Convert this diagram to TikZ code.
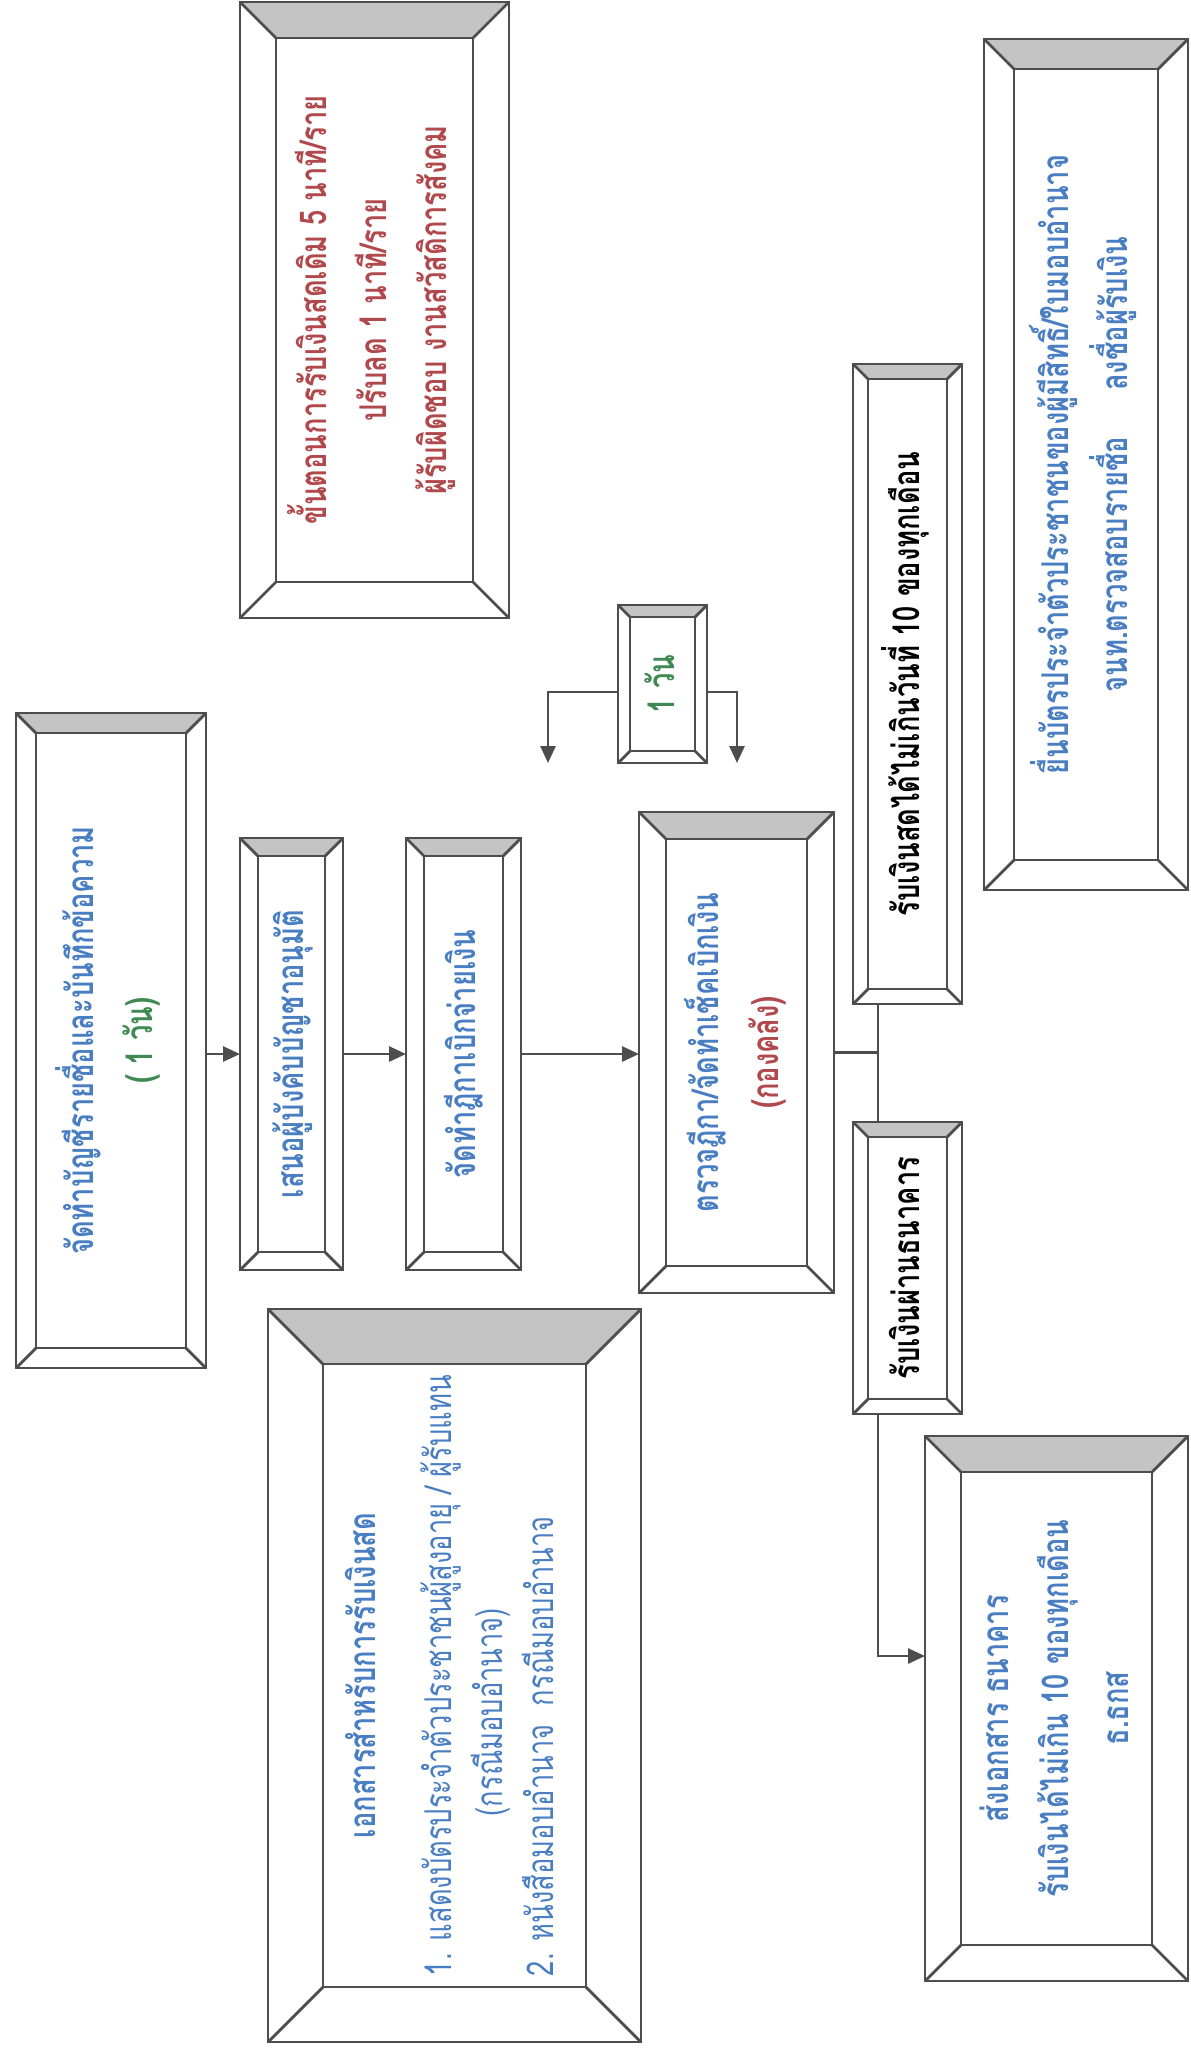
\documentclass[tikz,border=0pt]{standalone}
\usepackage{fontspec}
\setmainfont{Loma}[Script=Thai,FakeStretch=0.74]
\usepackage{graphicx}
\usetikzlibrary{arrows.meta}
\definecolor{edge}{HTML}{4D4D4D}
\definecolor{band}{HTML}{C4C4C4}
\definecolor{tblue}{HTML}{4A7EC2}
\definecolor{tred}{HTML}{B0484C}
\definecolor{tgreen}{HTML}{3F8A52}
\newcommand{\up}[1]{\rotatebox{90}{\begin{tabular}{@{}c@{}}#1\end{tabular}}}
\newcommand{\upl}[1]{\rotatebox{90}{\begin{tabular}{@{}l@{}}#1\end{tabular}}}

\begin{document}
\begin{tikzpicture}[x=0.1mm,y=-0.1mm,
every node/.style={font=\fontsize{10.5}{17}\selectfont\bfseries,text=tblue},
bevel/.style={draw=edge,line width=0.8pt,fill=white,inner sep=0pt,outer sep=0pt,
  path picture={
    \fill[band] (path picture bounding box.north west) -- (path picture bounding box.north east)
      -- ([shift={(-#1,-#1)}]path picture bounding box.north east)
      -- ([shift={(#1,-#1)}]path picture bounding box.north west) -- cycle;
    \draw[edge,line width=0.8pt] ([shift={(#1,#1)}]path picture bounding box.south west)
      rectangle ([shift={(-#1,-#1)}]path picture bounding box.north east);
    \draw[edge,line width=0.8pt] (path picture bounding box.north west) -- ++(#1,-#1);
    \draw[edge,line width=0.8pt] (path picture bounding box.north east) -- ++(-#1,-#1);
    \draw[edge,line width=0.8pt] (path picture bounding box.south west) -- ++(#1,#1);
    \draw[edge,line width=0.8pt] (path picture bounding box.south east) -- ++(-#1,#1);
  }},
arr/.style={-{Triangle[length=1.7mm,width=1.5mm]},edge,line width=0.8pt},
line/.style={edge,line width=0.8pt}]
\useasboundingbox (0,0) rectangle (1190,2053);

% boxes
\node[bevel=3.6mm,minimum width=26.9mm,minimum height=61.6mm,text=tred] (time) at (374.5,310)
  {\up{ขั้นตอนการรับเงินสดเดิม 5 นาที/ราย\\ปรับลด 1 นาที/ราย\\ผู้รับผิดชอบ งานสวัสดิการสังคม}};
\node[bevel=2mm,minimum width=19mm,minimum height=65.5mm] (list) at (111,1040.5)
  {\up{จัดทำบัญชีรายชื่อและบันทึกข้อความ\\\textcolor{tgreen}{( 1 วัน)}}};
\node[bevel=1.8mm,minimum width=10.3mm,minimum height=43.2mm] (propose) at (291.5,1054)
  {\up{เสนอผู้บังคับบัญชาอนุมัติ}};
\node[bevel=1.8mm,minimum width=11.5mm,minimum height=43.2mm] (voucher) at (463.5,1054)
  {\up{จัดทำฎีกาเบิกจ่ายเงิน}};
\node[bevel=2.7mm,minimum width=19.5mm,minimum height=48.1mm] (check) at (736.5,1052.5)
  {\up{ตรวจฎีกา/จัดทำเช็คเบิกเงิน\\\textcolor{tred}{(กองคลัง)}}};
\node[bevel=1.2mm,minimum width=8.9mm,minimum height=15.8mm,text=tgreen] (oneday) at (662.5,684)
  {\up{1 วัน}};
\node[bevel=1.5mm,minimum width=10.9mm,minimum height=64mm,text=black] (cash) at (907.5,684)
  {\up{รับเงินสดได้ไม่เกินวันที่ 10 ของทุกเดือน}};
\node[bevel=1.5mm,minimum width=10.9mm,minimum height=29.2mm,text=black] (bank) at (907.5,1268)
  {\up{รับเงินผ่านธนาคาร}};
\node[bevel=3.6mm,minimum width=26.3mm,minimum height=54.5mm] (bankdoc) at (1056.5,1708.5)
  {\up{ส่งเอกสาร ธนาคาร\\รับเงินได้ไม่เกิน 10 ของทุกเดือน\\ธ.ธกส}};
\node[bevel=3mm,minimum width=20.4mm,minimum height=85.1mm] (idcard) at (1086,464.5)
  {\up{ยื่นบัตรประจำตัวประชาชนของผู้มีสิทธิ์/ใบมอบอำนาจ\\จนท.ตรวจสอบรายชื่อ\quad\ ลงชื่อผู้รับเงิน}};
\node[bevel=5.5mm,minimum width=37.3mm,minimum height=73.3mm,
  font=\fontsize{10.5}{14.5}\selectfont\bfseries] (docs) at (454.5,1675.5)
  {\upl{\multicolumn{1}{c}{เอกสารสำหรับการรับเงินสด}\\[7pt]
   \mdseries 1. แสดงบัตรประจำตัวประชาชนผู้สูงอายุ / ผู้รับแทน\\
   \mdseries\hspace*{16mm}(กรณีมอบอำนาจ)\\
   \mdseries 2. หนังสือมอบอำนาจ\ \ กรณีมอบอำนาจ}};

% connectors
\coordinate (trunk) at (878,1052.5);
\coordinate (bankin) at (925,1656);
\coordinate (dl) at (548,763);
\coordinate (dr) at (737,763);
\draw[arr] (list.east |- propose.west) -- (propose.west);
\draw[arr] (propose) -- (voucher);
\draw[arr] (voucher.east) -- (voucher.east -| check.west);
\draw[line] (check.east) -- (check.east -| trunk);
\draw[line] (cash.south -| trunk) -- (bank.north -| trunk);
\draw[arr] (bank.south -| trunk) |- (bankin);
\draw[arr] ([yshift=-0.8mm]oneday.west) -| (dl);
\draw[arr] ([yshift=-0.8mm]oneday.east) -| (dr);
\end{tikzpicture}
\end{document}
